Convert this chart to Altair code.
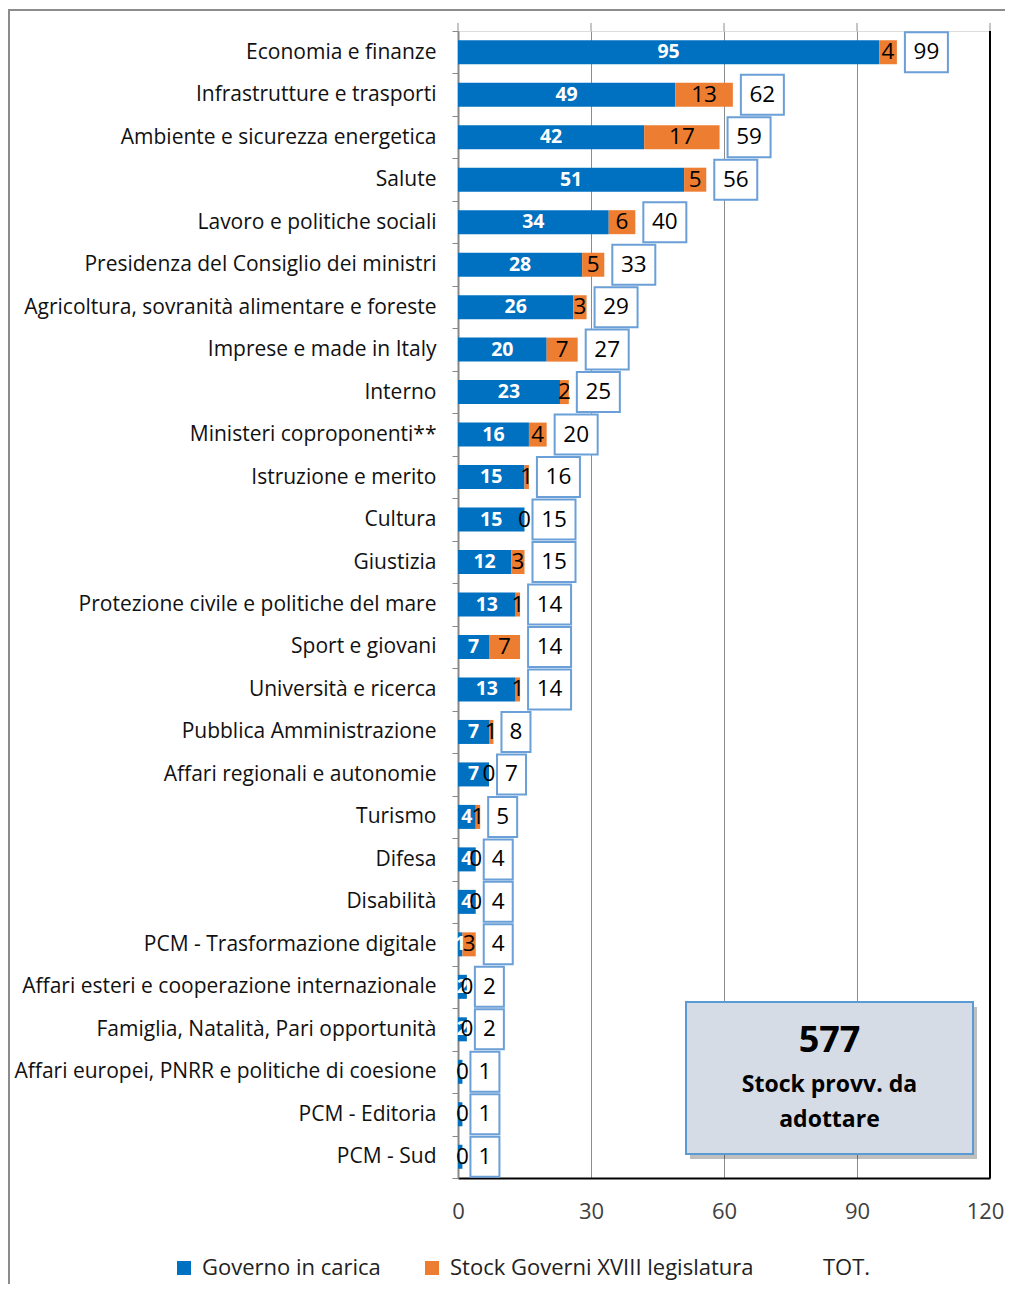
import altair as alt
import pandas as pd

categories = [
    "Economia e finanze", "Infrastrutture e trasporti", "Ambiente e sicurezza energetica",
    "Salute", "Lavoro e politiche sociali", "Presidenza del Consiglio dei ministri",
    "Agricoltura, sovranità alimentare e foreste", "Imprese e made in Italy", "Interno",
    "Ministeri coproponenti**", "Istruzione e merito", "Cultura", "Giustizia",
    "Protezione civile e politiche del mare", "Sport e giovani", "Università e ricerca",
    "Pubblica Amministrazione", "Affari regionali e autonomie", "Turismo", "Difesa",
    "Disabilità", "PCM - Trasformazione digitale",
    "Affari esteri e cooperazione internazionale", "Famiglia, Natalità, Pari opportunità",
    "Affari europei, PNRR e politiche di coesione", "PCM - Editoria", "PCM - Sud",
]
governo = [95, 49, 42, 51, 34, 28, 26, 20, 23, 16, 15, 15, 12, 13, 7, 13, 7, 7, 4, 4, 4, 1, 2, 2, 1, 1, 1]
stock = [4, 13, 17, 5, 6, 5, 3, 7, 2, 4, 1, 0, 3, 1, 7, 1, 1, 0, 1, 0, 0, 3, 0, 0, 0, 0, 0]
totale = [99, 62, 59, 56, 40, 33, 29, 27, 25, 20, 16, 15, 15, 14, 14, 14, 8, 7, 5, 4, 4, 4, 2, 2, 1, 1, 1]
series = ["Governo in carica", "Stock Governi XVIII legislatura", "TOT."]
x_ticks = [0, 30, 60, 90, 120]
total_stock = 577

W, H = 532, 1147
FONT = "Open Sans"
BLUE, ORANGE = "#0070C0", "#ED7D31"
PX = 120 / W  # data units per pixel

rows = []
for c, g, s, t in zip(categories, governo, stock, totale):
    rows.append({"cat": c, "serie": series[0], "start": 0, "end": g, "val": g, "mid": g / 2})
    rows.append({"cat": c, "serie": series[1], "start": g, "end": g + s, "val": s, "mid": g + s / 2})
bars_df = pd.DataFrame(rows)

tot_rows = []
for c, t in zip(categories, totale):
    bw = 15 + 14 * len(str(t))
    tot_rows.append({"cat": c, "tot": t, "b0": t + 8 * PX, "b1": t + (8 + bw) * PX,
                     "bc": t + (8 + bw / 2) * PX})
tot_df = pd.DataFrame(tot_rows)

xs = alt.Scale(domain=[0, 120], nice=False, zero=True)
ys = alt.Scale(paddingInner=0, paddingOuter=0)
color = alt.Color("serie:N", scale=alt.Scale(domain=series, range=[BLUE, ORANGE, "transparent"]),
                  legend=alt.Legend(orient="none", legendX=-285, legendY=1226, direction="horizontal",
                                    title=None, symbolType="square", symbolSize=196,
                                    symbolStrokeWidth=0, labelFontSize=22, labelFont=FONT,
                                    labelColor="#222222", labelOffset=7, columnPadding=40,
                                    labelLimit=500))

y_enc = alt.Y("cat:N", sort=categories, scale=ys, title=None,
              axis=alt.Axis(labelFontSize=21, labelFont=FONT, labelColor="#111111",
                            tickBand="extent", tickSize=6, tickColor="#888888",
                            domainColor="#888888", domainWidth=2, labelPadding=16,
                            labelLimit=500))

frame = alt.Chart(alt.Data(values=[{}])).mark_rect(
    fill="transparent", stroke="#8c8c8c", strokeWidth=2
).encode(x=alt.value(-449), x2=alt.value(W + 200), y=alt.value(-21), y2=alt.value(H + 300))

top_ticks = alt.Chart(pd.DataFrame({"t": x_ticks})).mark_rule(color="#8c8c8c", strokeWidth=1).encode(
    x=alt.X("t:Q", scale=xs), y=alt.value(-8), y2=alt.value(0))

right_line = alt.Chart(alt.Data(values=[{}])).mark_rule(color="#000000", strokeWidth=2).encode(
    x=alt.value(W), y=alt.value(0), y2=alt.value(H))

bars = alt.Chart(bars_df).mark_bar(size=24).encode(
    x=alt.X("start:Q", scale=xs, title=None,
            axis=alt.Axis(values=x_ticks, grid=True, gridColor="#8c8c8c", gridWidth=1,
                          ticks=False, domainColor="#000000", domainWidth=2,
                          labelFontSize=22, labelFont=FONT, labelColor="#404040",
                          labelPadding=23, labelFlush=False,
                          labelOffset={"condition": {"test": "datum.value == 120", "value": -5},
                                       "value": 0})),
    x2="end:Q",
    y=y_enc,
    color=color,
)

blue_lbl = alt.Chart(bars_df).transform_filter(alt.datum.serie == series[0]).mark_text(
    color="white", fontWeight="bold", fontSize=19.5, font=FONT, baseline="middle"
).encode(x=alt.X("mid:Q", scale=xs), y=alt.Y("cat:N", sort=categories, scale=ys), text="val:Q")

orange_lbl = alt.Chart(bars_df).transform_filter(alt.datum.serie == series[1]).mark_text(
    color="black", fontSize=22.5, font=FONT, baseline="middle"
).encode(x=alt.X("mid:Q", scale=xs), y=alt.Y("cat:N", sort=categories, scale=ys), text="val:Q")

boxes = alt.Chart(tot_df).mark_bar(size=40, fill="white", stroke="#6A9FD8", strokeWidth=2).encode(
    x=alt.X("b0:Q", scale=xs), x2="b1:Q", y=alt.Y("cat:N", sort=categories, scale=ys))

tot_lbl = alt.Chart(tot_df).mark_text(color="black", fontSize=22.5, font=FONT, baseline="middle").encode(
    x=alt.X("bc:Q", scale=xs), y=alt.Y("cat:N", sort=categories, scale=ys), text="tot:Q")

# summary box
bx0, bx1, by0, by1 = 228, 515, 971, 1123
shadow = alt.Chart(alt.Data(values=[{}])).mark_rect(fill="#000000", opacity=0.25).encode(
    x=alt.value(bx0 + 4), x2=alt.value(bx1 + 4), y=alt.value(by0 + 5), y2=alt.value(by1 + 5))
sbox = alt.Chart(alt.Data(values=[{}])).mark_rect(fill="#D6DCE5", stroke="#5B9BD5", strokeWidth=2).encode(
    x=alt.value(bx0), x2=alt.value(bx1), y=alt.value(by0), y2=alt.value(by1))
stext = alt.Chart(pd.DataFrame({
    "txt": [str(total_stock), "Stock provv. da", "adottare"],
    "yy": [1010, 1054, 1089], "fs": [36, 23, 23]})).mark_text(
    fontWeight="bold", font=FONT, color="black", baseline="middle", align="center"
).encode(x=alt.value((bx0 + bx1) / 2), y=alt.Y("yy:Q", scale=None), text="txt:N",
         size=alt.Size("fs:Q", scale=None, legend=None))

chart = alt.layer(
    frame, top_ticks, bars, right_line, blue_lbl, orange_lbl, boxes, tot_lbl, shadow, sbox, stext
).properties(
    width=W, height=H, autosize=alt.AutoSizeParams(type="none"),
    padding={"left": 450, "top": 23, "right": 15, "bottom": 106},
).configure_view(stroke="#8c8c8c", strokeWidth=1).configure(background="white")

chart.save("out.html", embed_options={"renderer": "svg", "actions": False})
